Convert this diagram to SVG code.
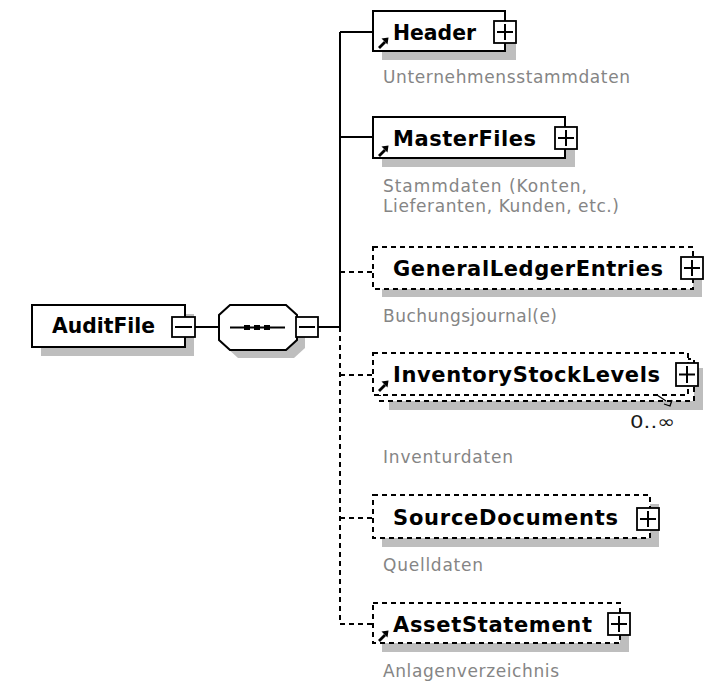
<svg xmlns="http://www.w3.org/2000/svg" width="726" height="687" viewBox="0 0 726 687">
<style>
.box{fill:#fff;stroke:#000;stroke-width:2}
.dbox{fill:#fff;stroke:#000;stroke-width:2;stroke-dasharray:5 4}
.shadow{fill:#bebebe}
.lbl{font-family:"DejaVu Sans","Liberation Sans",sans-serif;font-weight:bold;font-size:21px;fill:#000}
.ann{font-family:"DejaVu Sans","Liberation Sans",sans-serif;font-size:17px;fill:#858585}
.conn{stroke:#000;stroke-width:2;fill:none}
.dconn{stroke:#000;stroke-width:2;fill:none;stroke-dasharray:5 4}
.pm{fill:#fff;stroke:#000;stroke-width:1.8}
.sign{stroke:#000;stroke-width:2;fill:none}
</style>
<defs>
<g id="plus"><rect class="pm" x="0" y="0" width="22" height="22"/><path class="sign" d="M3,11H19M11,3V19"/></g>
<g id="refarrow"><path d="M1,10L7,4" stroke="#000" stroke-width="2.8" fill="none"/><polygon points="3.5,0.5 10.5,-0.5 9.5,6.5" fill="#000"/></g>
</defs>
<rect x="0" y="0" width="726" height="687" fill="#fff"/>

<g id="connectors">
<path class="conn" d="M195,327H219M318,327H340M340,32V327M340,32H373M340,137H373"/>
<path class="dconn" d="M340,327V624M340,272H373M340,375H373M340,518H373M340,624H373"/>
</g>

<g id="AuditFile">
<rect class="shadow" x="41" y="314" width="153" height="42"/>
<rect class="box" x="32" y="305" width="153" height="42"/>
<text class="lbl" x="52" y="333" textLength="103" lengthAdjust="spacingAndGlyphs">AuditFile</text>
<rect class="pm" x="172" y="317" width="23" height="20"/>
<path class="sign" d="M175,327H192"/>
</g>

<g id="sequence">
<polygon class="shadow" points="238,313 294,313 305,323 305,348 294,358 238,358 227,348 227,323"/>
<polygon class="box" points="230,305 286,305 297,315 297,340 286,350 230,350 219,340 219,315"/>
<path class="sign" d="M230,327.5H285"/>
<rect x="244" y="325" width="6" height="5" fill="#000"/>
<rect x="254" y="325" width="6" height="5" fill="#000"/>
<rect x="264" y="325" width="6" height="5" fill="#000"/>
<rect class="pm" x="296" y="317" width="22" height="20"/>
<path class="sign" d="M299,327H315"/>
</g>

<g id="Header">
<rect class="shadow" x="382" y="20" width="134" height="40"/>
<rect class="box" x="373" y="11" width="132" height="40"/>
<text class="lbl" x="393" y="40" textLength="83" lengthAdjust="spacingAndGlyphs">Header</text>
<use href="#refarrow" x="378" y="38"/>
<use href="#plus" x="494" y="21"/>
<text class="ann" x="383" y="83" textLength="247" lengthAdjust="spacing">Unternehmensstammdaten</text>
</g>

<g id="MasterFiles">
<rect class="shadow" x="382" y="126" width="193" height="41"/>
<rect class="box" x="373" y="117" width="192" height="41"/>
<text class="lbl" x="393" y="146" textLength="143" lengthAdjust="spacing">MasterFiles</text>
<use href="#refarrow" x="378" y="146"/>
<use href="#plus" x="555" y="127"/>
<text class="ann" x="383" y="192" textLength="204" lengthAdjust="spacing">Stammdaten (Konten,</text>
<text class="ann" x="383" y="212" textLength="236" lengthAdjust="spacing">Lieferanten, Kunden, etc.)</text>
</g>

<g id="GeneralLedgerEntries">
<rect class="shadow" x="382" y="256" width="320" height="41"/>
<rect class="dbox" x="373" y="247" width="320" height="42"/>
<text class="lbl" x="393" y="276" textLength="270" lengthAdjust="spacing">GeneralLedgerEntries</text>
<use href="#plus" x="681" y="257"/>
<text class="ann" x="383" y="322" textLength="174" lengthAdjust="spacing">Buchungsjournal(e)</text>
</g>

<g id="InventoryStockLevels">
<rect class="shadow" x="389" y="368" width="314" height="42"/>
<rect class="dbox" x="380" y="359" width="314" height="42"/>
<rect class="dbox" x="373" y="353" width="315" height="42"/>
<text class="lbl" x="393" y="382" textLength="267" lengthAdjust="spacing">InventoryStockLevels</text>
<use href="#refarrow" x="378" y="381"/>
<rect class="pm" x="676" y="363" width="22" height="23"/>
<path class="sign" d="M679,374.5H695M687,366V383"/>
<path d="M657,395L666,401M664,404L670,406L672,400" stroke="#000" stroke-width="1.3" fill="none"/>
<text x="630" y="428" textLength="45" lengthAdjust="spacingAndGlyphs" style="font-family:'DejaVu Sans','Liberation Sans',sans-serif;font-size:18px;fill:#1a1a1a">0..∞</text>
<text class="ann" x="383" y="463" textLength="130" lengthAdjust="spacing">Inventurdaten</text>
</g>

<g id="SourceDocuments">
<rect class="shadow" x="382" y="504" width="277" height="43"/>
<rect class="dbox" x="373" y="495" width="277" height="43"/>
<text class="lbl" x="393" y="525" textLength="225" lengthAdjust="spacing">SourceDocuments</text>
<use href="#plus" x="637" y="508"/>
<text class="ann" x="383" y="571" textLength="100" lengthAdjust="spacing">Quelldaten</text>
</g>

<g id="AssetStatement">
<rect class="shadow" x="382" y="612" width="247" height="40"/>
<rect class="dbox" x="373" y="603" width="247" height="40"/>
<text class="lbl" x="393" y="632" textLength="199" lengthAdjust="spacing">AssetStatement</text>
<use href="#refarrow" x="378" y="631"/>
<use href="#plus" x="608" y="613"/>
<text class="ann" x="383" y="677" textLength="176" lengthAdjust="spacing">Anlagenverzeichnis</text>
</g>
</svg>
